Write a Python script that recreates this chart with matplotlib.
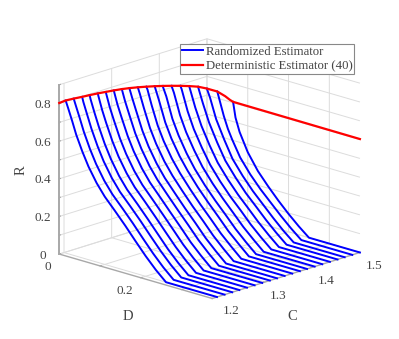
import numpy as np
import matplotlib
matplotlib.use('Agg')
import matplotlib.pyplot as plt

plt.rcParams['font.family'] = ['Liberation Serif', 'DejaVu Serif']
n = np.nan

# C value of each blue curve
c_vals = [1.2, 1.216, 1.232, 1.247, 1.263, 1.279, 1.295, 1.311, 1.326, 1.342,
          1.358, 1.374, 1.389, 1.405, 1.421, 1.437, 1.453, 1.468, 1.484, 1.5]
# where each curve meets the red line
d_start = [.004, .005, .007, .008, .009, .01, .011, .012, .013, .015,
           .017, .019, .021, .024, .027, .03, .033, .037, .044, .064]
r_start = [.811, .809, .807, .805, .802, .798, .794, .789, .783, .776,
           .768, .759, .75, .74, .729, .717, .703, .684, .66, .605]

d_grid = [.01, .02, .03, .045, .06, .07, .08, .10, .125, .15, .175, .20, .225, .25, .375]
r_rows = [
    [.775, .712, .645, .565, .495, n, .42, .36, .30, .238, .172, .108, .05, 0, 0],
    [.777, .714, .648, .566, .496, n, .42, .36, .30, .238, .172, .108, .05, 0, 0],
    [.782, .716, .651, .568, .497, n, .421, .36, .30, .238, .172, .108, .05, 0, 0],
    [.786, .718, .654, .569, .498, n, .421, .36, .30, .237, .172, .107, .05, 0, 0],
    [n, .72, .657, .571, .499, n, .422, .36, .299, .236, .171, .107, .05, 0, 0],
    [n, .722, .66, .572, .50, n, .422, .36, .298, .235, .171, .106, .05, 0, 0],
    [n, .725, .663, .574, .501, n, .423, .36, .297, .233, .17, .105, .05, 0, 0],
    [n, .73, .667, .575, .502, n, .423, .36, .295, .231, .169, .105, .05, 0, 0],
    [n, .735, .671, .577, .503, n, .424, .36, .294, .229, .168, .104, .05, 0, 0],
    [n, .745, .675, .578, .504, n, .424, .36, .292, .227, .167, .104, .05, 0, 0],
    [n, .755, .68, .58, .505, n, .425, .36, .29, .225, .165, .103, .05, 0, 0],
    [n, n, .688, .583, .507, n, .426, .36, .288, .224, .164, .102, .05, 0, 0],
    [n, n, .70, .59, .512, n, .428, .358, .286, .222, .163, .102, .049, 0, 0],
    [n, n, .707, .597, .516, n, .431, .357, .284, .22, .161, .101, .049, 0, 0],
    [n, n, .715, .605, .52, n, .433, .356, .282, .217, .16, .10, .048, 0, 0],
    [n, n, n, .612, .525, n, .434, .354, .28, .215, .158, .10, .048, 0, 0],
    [n, n, n, .622, .53, n, .436, .352, .278, .212, .156, .099, .047, 0, 0],
    [n, n, n, .64, .535, n, .438, .35, .275, .21, .154, .098, .046, 0, 0],
    [n, n, n, n, .54, .478, .43, .345, .27, .207, .152, .097, .046, 0, 0],
    [n, n, n, n, n, .525, .455, .36, .275, .21, .15, .095, .045, 0, 0],
]

# red line: rises through the curve starts, rounds off, then stays flat along D at C=1.5
red_c = [1.19] + c_vals[:19] + [1.492, 1.497, 1.5, 1.5]
red_d = [0.0] + d_start[:19] + [.054, .06, .064, .375]
red_r = [.803] + r_start[:19] + [.635, .615, .605, .603]

d_ticks = [0, .1, .2, .3]
d_labels = ['0', '', '0.2', '']
c_ticks = [1.2, 1.3, 1.4, 1.5]
c_labels = ['1.2', '1.3', '1.4', '1.5']
r_ticks = [0, .1, .2, .3, .4, .5, .6, .7, .8, .9]
r_labels = ['0', '', '0.2', '', '0.4', '', '0.6', '', '0.8', '']

GREY = '#444444'


def plot_chart():
    fig = plt.figure(figsize=(3.99, 3.39), dpi=100)
    ax = fig.add_axes([5.5 / 399, -3.7 / 339, 1.0, 1.0], projection='3d',
                      proj_type='ortho', computed_zorder=False)
    ax.patch.set_alpha(0)
    ax.view_init(elev=17.5, azim=-46)
    ax.set_box_aspect((212, 212, 177), zoom=1.0)

    ax.set_xlim(0, .375)
    ax.set_ylim(1.19, 1.5)
    ax.set_zlim(0, .9)

    for i, c in enumerate(c_vals):
        row = np.array(r_rows[i])
        keep = ~np.isnan(row)
        ds = np.r_[d_start[i], np.array(d_grid)[keep]]
        rs = np.r_[r_start[i], row[keep]]
        ax.plot(ds, np.full_like(ds, c), rs, color='#0000ff', lw=1.4, zorder=3,
                label='Randomized Estimator' if i == 0 else None)
    ax.plot(red_d, red_c, red_r, color='#ff0000', lw=1.6, zorder=4,
            label='Deterministic Estimator (40)')

    ax.set_xticks(d_ticks, d_labels, ha='right', va='center_baseline')
    ax.set_yticks(c_ticks, c_labels, ha='left')
    ax.set_zticks(r_ticks, r_labels, va='center_baseline')

    for axis in (ax.xaxis, ax.yaxis, ax.zaxis):
        axis.set_pane_color((1, 1, 1, 0))
        axis.pane.set_edgecolor((1, 1, 1, 0))
        axis.line.set_color('#a8a8a8')
        axis.line.set_linewidth(1.0)
        axis._axinfo['grid'].update(color='#dcdcdc', linewidth=0.7)
        axis._axinfo['tick'].update(inward_factor=0.0, outward_factor=0.1)
    ax.zaxis.line.set_linewidth(1.4)
    ax.zaxis.set_ticks_position('lower')
    ax.tick_params(colors='#a8a8a8', labelcolor=GREY, labelsize=9.5)
    ax.tick_params(axis='x', pad=-1)
    ax.tick_params(axis='y', pad=-3.5)
    ax.tick_params(axis='z', pad=-1)

    fig.text(21.5 / 399, 1 - 170 / 339, 'R', rotation=90, fontsize=10.5, color=GREY,
             ha='center', va='center')
    fig.text(128 / 399, 1 - 317 / 339, 'D', fontsize=10.5, color=GREY,
             ha='center', va='center')
    fig.text(292 / 399, 1 - 317 / 339, 'C', fontsize=10.5, color=GREY,
             ha='center', va='center')

    leg = ax.legend(loc='upper left', bbox_to_anchor=(180 / 399, 1 - 44 / 339),
                    bbox_transform=fig.transFigure, fontsize=9.2, fancybox=False,
                    framealpha=1, edgecolor='#888888', borderpad=0.15,
                    labelspacing=0.2, handlelength=1.65, handletextpad=0.2,
                    borderaxespad=0)
    leg.get_frame().set_linewidth(0.8)
    for t in leg.get_texts():
        t.set_color(GREY)

    fig.savefig('out.png', dpi=100)


if __name__ == "__main__":
    plot_chart()
